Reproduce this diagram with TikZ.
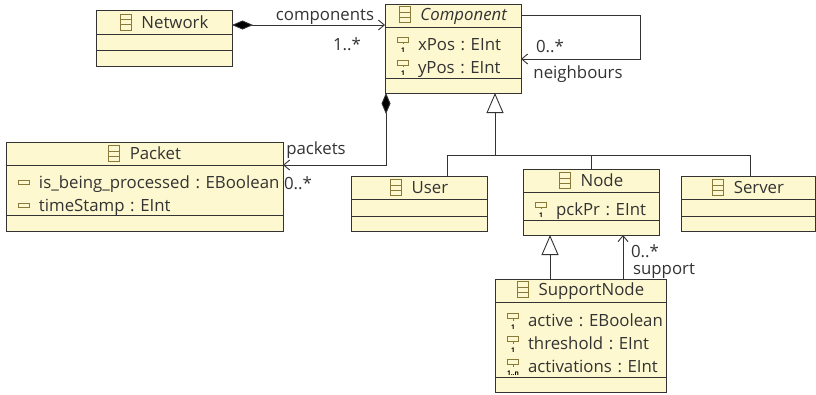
\documentclass[tikz,border=0pt]{standalone}
\usepackage{fontspec}
\setmainfont{Open Sans}
\usepackage{tikz}
\usetikzlibrary{arrows.meta,positioning}
\frenchspacing

\definecolor{classfill}{HTML}{FDF8CF}
\definecolor{classline}{HTML}{333333}
\definecolor{iconline}{HTML}{8A7A3A}

\newcommand{\toprow}{\rule{0pt}{23pt}}
\newcommand{\classicon}{\tikz[x=1pt,y=1pt,baseline=1pt]{\draw[iconline,line width=.8pt] (0,-1) rectangle (11,15) (0,4.3) -- (11,4.3) (0,9.6) -- (11,9.6);}\hspace{10pt}}
\newcommand{\attricon}[1]{\hspace*{9pt}\makebox[12pt]{\tikz[x=1pt,y=1pt,baseline=0pt]{\draw[iconline,line width=.8pt] (0,8) rectangle (11,13) (5.5,8) -- (5.5,6);
    \node[inner sep=0pt,minimum width=0pt,minimum height=0pt,text width=,align=center,font=\fontsize{6.5}{6.5}\selectfont\bfseries,text=black] (mult) at (5.5,2.5) {#1};}}\hspace{9pt}}
\newcommand{\privicon}{\hspace*{9pt}\makebox[12pt]{\tikz[x=1pt,y=1pt,baseline=0pt]{\draw[iconline,line width=.8pt] (0,4) rectangle (11,8);}}\hspace{9pt}}

\tikzset{
  classpart/.style={draw=classline,fill=classfill,line width=.9pt,outer sep=0pt,inner ysep=0pt,inner xsep=3pt,text=classline,font=\fontsize{16.8}{23}\selectfont},
  attrs/.style={classpart,align=left,text width=#1-6pt,minimum width=#1},
  link/.style={draw=classline,line width=.9pt},
  assoc/.style={link,-{Straight Barb[length=6pt,width=10pt]}},
  contain/.style={link,{Diamond[fill=black,length=21pt,width=9pt]}-{Straight Barb[length=6pt,width=10pt]}},
  generalize/.style={link,-{Triangle[open,fill=white,length=20pt,width=17pt]}},
  lbl/.style={inner sep=0pt,text=classline,font=\fontsize{16.8}{18}\selectfont}
}

\begin{document}
\begin{tikzpicture}[x=1pt,y=-1pt]
  \useasboundingbox (0,0) rectangle (816,394);

  \node[classpart,minimum width=136pt,minimum height=24pt,anchor=north west] (network) at (96,10) {\classicon Network};
  \node[classpart,minimum width=136pt,minimum height=16pt,below=0pt of network] (networkattrs) {};
  \node[classpart,minimum width=136pt,minimum height=16pt,below=0pt of networkattrs] (networkops) {};

  \node[classpart,minimum width=136pt,minimum height=23pt,anchor=north west] (component) at (385,4) {\classicon\textit{Component}};
  \node[attrs=136pt,minimum height=51pt,below=0pt of component] (componentattrs) {\toprow\attricon{1}xPos : EInt\\\attricon{1}yPos : EInt};
  \node[classpart,minimum width=136pt,minimum height=15pt,below=0pt of componentattrs] (componentops) {};

  \node[classpart,minimum width=277pt,minimum height=23pt,anchor=north west] (packet) at (6,142) {\classicon Packet};
  \node[attrs=277pt,minimum height=50pt,below=0pt of packet] (packetattrs) {\toprow\privicon is\_being\_processed : EBoolean\\\privicon timeStamp : EInt};
  \node[classpart,minimum width=277pt,minimum height=16pt,below=0pt of packetattrs] (packetops) {};

  \node[classpart,minimum width=136pt,minimum height=23pt,anchor=north west] (user) at (351,176) {\classicon User};
  \node[classpart,minimum width=136pt,minimum height=17pt,below=0pt of user] (userattrs) {};
  \node[classpart,minimum width=136pt,minimum height=15pt,below=0pt of userattrs] (userops) {};

  \node[classpart,minimum width=136pt,minimum height=23pt,anchor=north west] (nodeclass) at (523,169) {\classicon Node};
  \node[attrs=136pt,minimum height=28pt,below=0pt of nodeclass] (nodeattrs) {\toprow\attricon{1}pckPr : EInt};
  \node[classpart,minimum width=136pt,minimum height=15pt,below=0pt of nodeattrs] (nodeops) {};

  \node[classpart,minimum width=134pt,minimum height=23pt,anchor=north west] (server) at (681,176) {\classicon Server};
  \node[classpart,minimum width=134pt,minimum height=17pt,below=0pt of server] (serverattrs) {};
  \node[classpart,minimum width=134pt,minimum height=15pt,below=0pt of serverattrs] (serverops) {};

  \node[classpart,minimum width=171pt,minimum height=23pt,anchor=north west] (supportnode) at (495,279) {\classicon SupportNode};
  \node[attrs=171pt,minimum height=75pt,below=0pt of supportnode] (supportattrs) {\toprow\attricon{1}active : EBoolean\\\attricon{1}threshold : EInt\\\attricon{1..n}activations : EInt};
  \node[classpart,minimum width=171pt,minimum height=15pt,below=0pt of supportattrs] (supportops) {};

  \coordinate (branch) at (495,155);

  \draw[contain] ([yshift=-3pt]network.east) -- (component.west |- 0,25);
  \draw[assoc] (component.east) -- ++(119,0) |- ([yshift=-6.5pt]componentattrs.east);
  \draw[contain] ([xshift=1pt]componentops.south west) |- (packet.south east);

  \draw[generalize] (branch) -- (branch |- componentops.south);
  \draw[link] ([xshift=28pt]user.north) |- (branch);
  \draw[link] (nodeclass.north) |- (branch);
  \draw[link] ([xshift=2pt]server.north) |- (branch);

  \draw[generalize] ([xshift=-30.5pt]supportnode.north) -- ([xshift=-30.5pt]supportnode.north |- nodeops.south);
  \draw[assoc] ([xshift=42.5pt]supportnode.north) -- ([xshift=42.5pt]supportnode.north |- nodeops.south);

  \node[lbl] (componentslbl) at (325,17) {components};
  \node[lbl] (componentsmult) at (347,44) {1..*};
  \node[lbl] (neighboursmult) at (550,46) {0..*};
  \node[lbl] (neighbourslbl) at (578,74) {neighbours};
  \node[lbl] (packetslbl) at (316,150) {packets};
  \node[lbl] (packetsmult) at (298,183) {0..*};
  \node[lbl] (supportmult) at (645,251) {0..*};
  \node[lbl] (supportlbl) at (664,271) {support};
\end{tikzpicture}
\end{document}
